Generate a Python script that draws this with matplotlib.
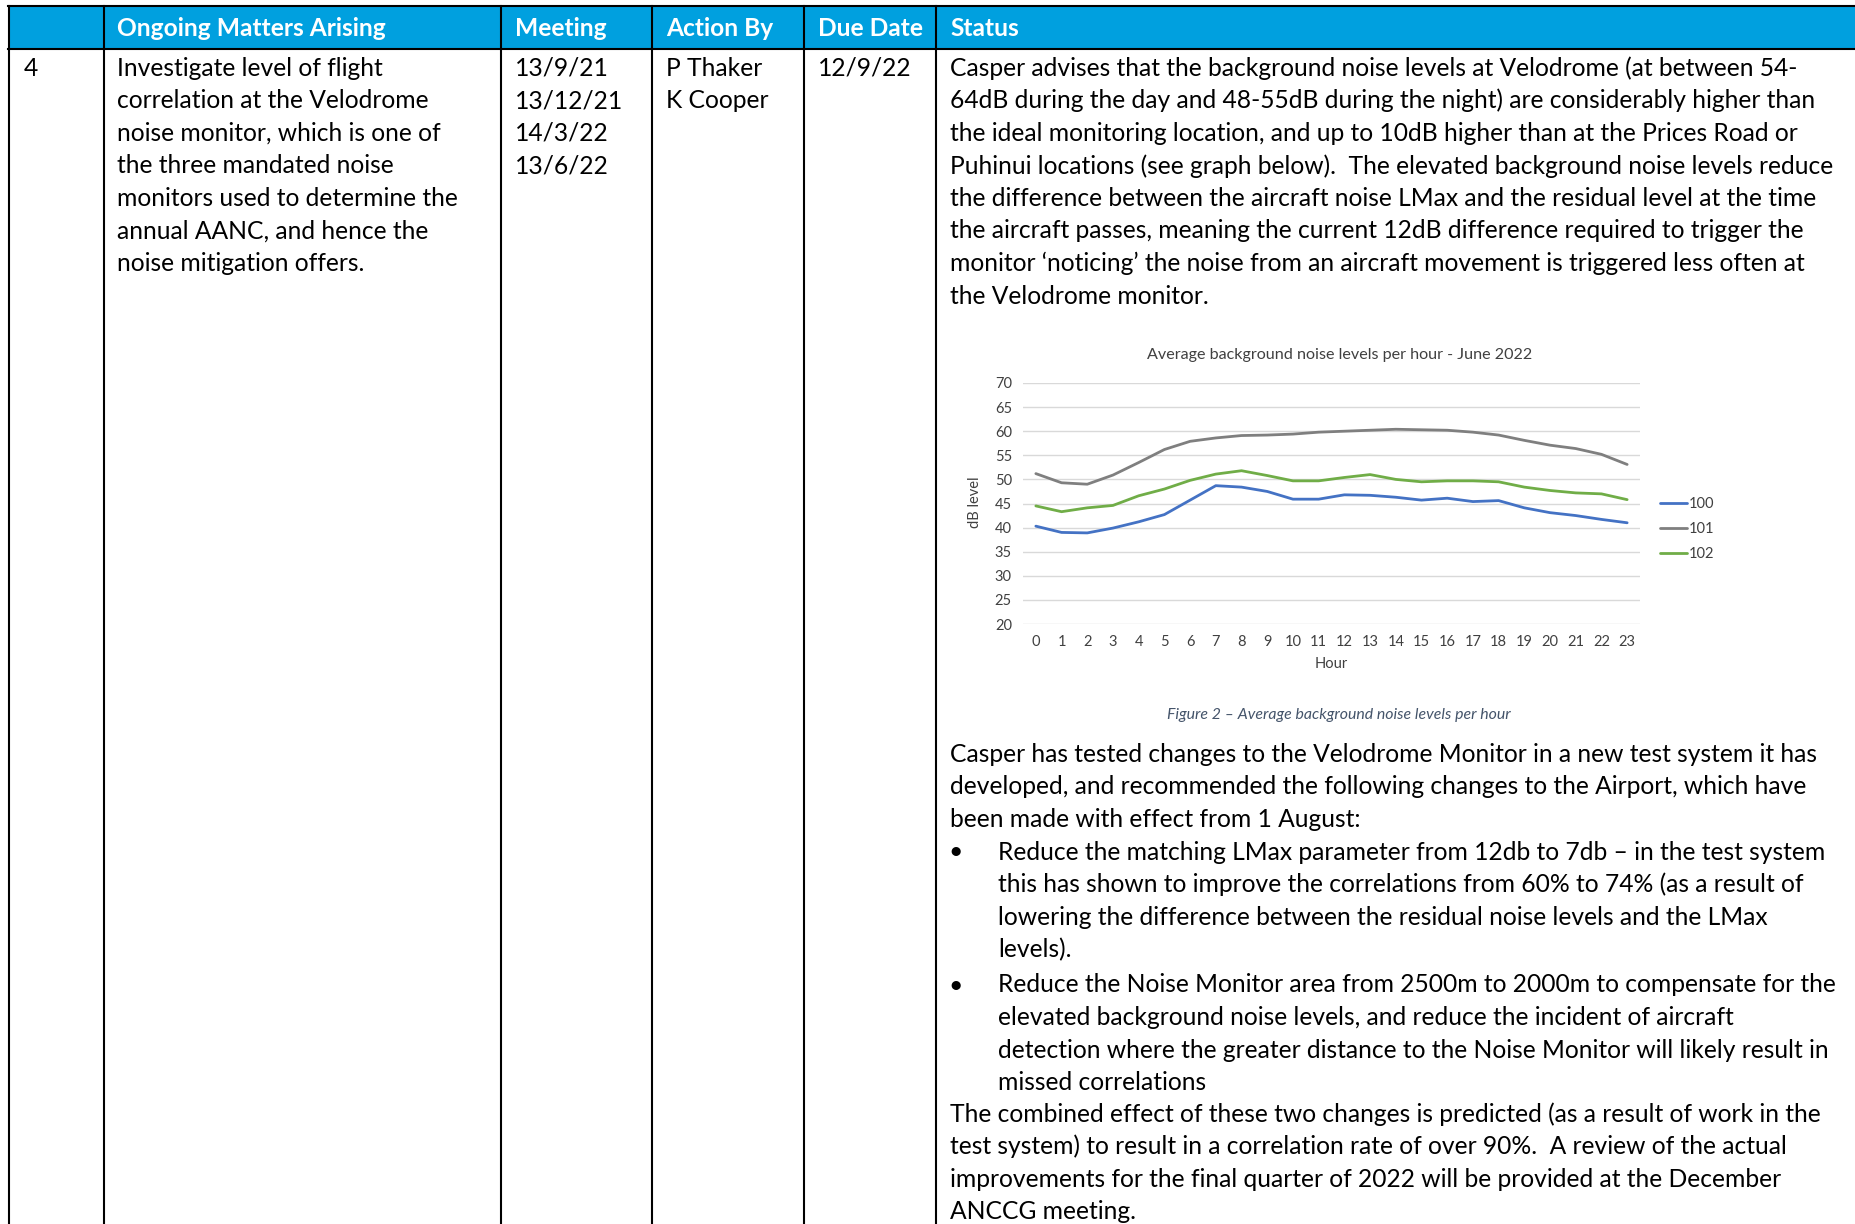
import matplotlib
matplotlib.use('Agg')
import matplotlib.pyplot as plt
from matplotlib.patches import Rectangle

plt.rcParams['font.family'] = ['Lato', 'DejaVu Sans']

# chart data
hours = list(range(24))
mon_100 = [40.3, 39.0, 38.9, 39.9, 41.2, 42.7, 45.7, 48.7, 48.4, 47.5, 45.9, 45.9,
           46.8, 46.7, 46.3, 45.7, 46.1, 45.4, 45.6, 44.1, 43.1, 42.5, 41.7, 41.0]
mon_101 = [51.2, 49.3, 49.0, 50.9, 53.5, 56.2, 57.9, 58.6, 59.1, 59.2, 59.4, 59.8,
           60.0, 60.2, 60.4, 60.3, 60.2, 59.8, 59.2, 58.1, 57.1, 56.4, 55.2, 53.1]
mon_102 = [44.5, 43.3, 44.1, 44.6, 46.6, 48.0, 49.8, 51.1, 51.8, 50.8, 49.7, 49.7,
           50.4, 51.0, 50.0, 49.5, 49.7, 49.7, 49.5, 48.4, 47.7, 47.2, 47.0, 45.8]
series_names = ['100', '101', '102']
series_colors = ['#4472C4', '#7F7F7F', '#70AD47']

# table text
headers = ['Ongoing Matters Arising', 'Meeting', 'Action By', 'Due Date', 'Status']
item_no = '4'
matter_lines = ['Investigate level of flight', 'correlation at the Velodrome',
                'noise monitor, which is one of', 'the three mandated noise',
                'monitors used to determine the', 'annual AANC, and hence the',
                'noise mitigation offers.']
meetings = ['13/9/21', '13/12/21', '14/3/22', '13/6/22']
action_by = ['P Thaker', 'K Cooper']
due_date = ['12/9/22']
status_top = [
    'Casper advises that the background noise levels at Velodrome (at between 54-',
    '64dB during the day and 48-55dB during the night) are considerably higher than',
    'the ideal monitoring location, and up to 10dB higher than at the Prices Road or',
    'Puhinui locations (see graph below).  The elevated background noise levels reduce',
    'the difference between the aircraft noise LMax and the residual level at the time',
    'the aircraft passes, meaning the current 12dB difference required to trigger the',
    'monitor \u2018noticing\u2019 the noise from an aircraft movement is triggered less often at',
    'the Velodrome monitor.']
status_mid = [
    'Casper has tested changes to the Velodrome Monitor in a new test system it has',
    'developed, and recommended the following changes to the Airport, which have',
    'been made with effect from 1 August:']
bullet1 = [
    'Reduce the matching LMax parameter from 12db to 7db \u2013 in the test system',
    'this has shown to improve the correlations from 60% to 74% (as a result of',
    'lowering the difference between the residual noise levels and the LMax',
    'levels).']
bullet2 = [
    'Reduce the Noise Monitor area from 2500m to 2000m to compensate for the',
    'elevated background noise levels, and reduce the incident of aircraft',
    'detection where the greater distance to the Noise Monitor will likely result in',
    'missed correlations']
status_end = [
    'The combined effect of these two changes is predicted (as a result of work in the',
    'test system) to result in a correlation rate of over 90%.  A review of the actual',
    'improvements for the final quarter of 2022 will be provided at the December',
    'ANCCG meeting.']

W, H = 1856, 1224
fig = plt.figure(figsize=(W / 100, H / 100), dpi=100)
bg = fig.add_axes([0, 0, 1, 1])
bg.set_xlim(0, W)
bg.set_ylim(H, 0)
bg.axis('off')

# fit body font size to the width of the first status line (851 px)
r = fig.canvas.get_renderer()
t = bg.text(0, 0, status_top[0], fontsize=16)
body_fs = 16 * 851 / t.get_window_extent(r).width
t.remove()
t = bg.text(0, 0, headers[0], fontsize=16, fontweight='bold')
head_fs = 16 * 270 / t.get_window_extent(r).width
t.remove()

# table frame
cols = [9, 104, 501, 652, 804, 936]
bg.add_patch(Rectangle((9, 6), W - 9, 43, facecolor='#00A0DF', edgecolor='none'))
bg.plot([8, W], [6, 6], color='black', lw=1.5)
bg.plot([8, W], [49, 49], color='black', lw=1.5)
for cx in cols:
    bg.plot([cx, cx], [6, H], color='black', lw=1.5)

head_x = [117, 515, 666, 818, 950]
for hx, h in zip(head_x, headers):
    bg.text(hx, 29, h, fontsize=head_fs, fontweight='bold', color='white', va='center')

step = 32.6
y0 = 68
def block(x, lines, ystart):
    for i, s in enumerate(lines):
        bg.text(x, ystart + i * step, s, fontsize=body_fs, color='black', va='center')

block(24, [item_no], y0)
block(117, matter_lines, y0)
block(515, meetings, y0)
block(666, action_by, y0)
block(818, due_date, y0)
block(950, status_top, y0)
block(950, status_mid, 754)
block(998, bullet1, 852)
block(998, bullet2, 985)
block(950, status_end, 1114)
for by in [852, 985]:
    bg.text(956, by, '\u2022', fontsize=body_fs, ha='center', va='center')

# embedded chart
txt_c = '#404040'
ax = fig.add_axes([1023 / W, 1 - 624 / H, (1640 - 1023) / W, (624 - 383) / H])
for vals, name, c in zip([mon_100, mon_101, mon_102], series_names, series_colors):
    ax.plot(hours, vals, color=c, lw=2.0, label=name, solid_capstyle='round')
ax.set_xlim(-0.5, 23.5)
ax.set_ylim(20, 70)
ax.set_yticks(range(20, 71, 5))
ax.set_xticks(hours)
ax.grid(axis='y', color='#D9D9D9', lw=1)
ax.set_axisbelow(True)
for sp in ax.spines.values():
    sp.set_visible(False)
ax.tick_params(length=0, labelsize=10.5, colors=txt_c, pad=8)
leg = ax.legend(loc='center left', bbox_to_anchor=(1660 / W, 1 - 529 / H),
                bbox_transform=fig.transFigure, frameon=False, fontsize=10.5,
                handlelength=1.85, handletextpad=0.15, labelspacing=0.75,
                borderpad=0, borderaxespad=0)
for txt in leg.get_texts():
    txt.set_color(txt_c)

bg.text(1340, 355, 'Average background noise levels per hour - June 2022',
        fontsize=11.6, color=txt_c, ha='center', va='center')
bg.text(1331, 664, 'Hour', fontsize=10.5, color=txt_c, ha='center', va='center')
bg.text(975, 502, 'dB level', fontsize=10.5, color=txt_c, ha='center', va='center',
        rotation=90)
bg.text(1339, 715, 'Figure 2 \u2013 Average background noise levels per hour',
        fontsize=11.4, style='italic', color='#44546A', ha='center', va='center')

fig.savefig('out.png', dpi=100)
